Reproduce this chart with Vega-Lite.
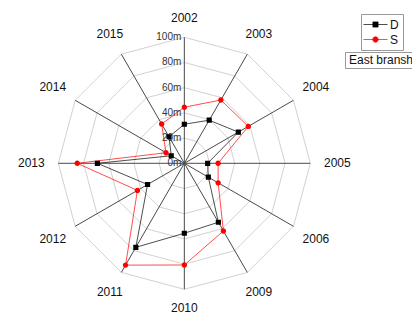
{
  "$schema": "https://vega.github.io/schema/vega-lite/v6.json",
  "width": 412,
  "height": 313,
  "autosize": "none",
  "padding": 0,
  "background": "white",
  "config": {"view": {"stroke": null}, "font": "Liberation Sans"},
  "datasets": {
    "axes": [
      {"year": "2002", "idx": 0, "levels": [20, 40, 60, 80, 100]},
      {"year": "2003", "idx": 1, "levels": [20, 40, 60, 80, 100]},
      {"year": "2004", "idx": 2, "levels": [20, 40, 60, 80, 100]},
      {"year": "2005", "idx": 3, "levels": [20, 40, 60, 80, 100]},
      {"year": "2006", "idx": 4, "levels": [20, 40, 60, 80, 100]},
      {"year": "2009", "idx": 5, "levels": [20, 40, 60, 80, 100]},
      {"year": "2010", "idx": 6, "levels": [20, 40, 60, 80, 100]},
      {"year": "2011", "idx": 7, "levels": [20, 40, 60, 80, 100]},
      {"year": "2012", "idx": 8, "levels": [20, 40, 60, 80, 100]},
      {"year": "2013", "idx": 9, "levels": [20, 40, 60, 80, 100]},
      {"year": "2014", "idx": 10, "levels": [20, 40, 60, 80, 100]},
      {"year": "2015", "idx": 11, "levels": [20, 40, 60, 80, 100]}
    ],
    "ticks": [
      {"label": "0m", "v": 0},
      {"label": "20m", "v": 20},
      {"label": "40m", "v": 40},
      {"label": "60m", "v": 60},
      {"label": "80m", "v": 80},
      {"label": "100m", "v": 100}
    ],
    "main": [
      {"year": "2002", "idx": 0, "series": "D", "value": 31, "branch": "East bransh"},
      {"year": "2003", "idx": 1, "series": "D", "value": 39.5, "branch": "East bransh"},
      {"year": "2004", "idx": 2, "series": "D", "value": 49.5, "branch": "East bransh"},
      {"year": "2005", "idx": 3, "series": "D", "value": 18.5, "branch": "East bransh"},
      {"year": "2006", "idx": 4, "series": "D", "value": 22, "branch": "East bransh"},
      {"year": "2009", "idx": 5, "series": "D", "value": 54, "branch": "East bransh"},
      {"year": "2010", "idx": 6, "series": "D", "value": 55.5, "branch": "East bransh"},
      {"year": "2011", "idx": 7, "series": "D", "value": 77, "branch": "East bransh"},
      {"year": "2012", "idx": 8, "series": "D", "value": 33.7, "branch": "East bransh"},
      {"year": "2013", "idx": 9, "series": "D", "value": 69, "branch": "East bransh"},
      {"year": "2014", "idx": 10, "series": "D", "value": 12, "branch": "East bransh"},
      {"year": "2015", "idx": 11, "series": "D", "value": 24.3, "branch": "East bransh"},
      {"year": "2002", "idx": 0, "series": "S", "value": 44.5, "branch": "East bransh"},
      {"year": "2003", "idx": 1, "series": "S", "value": 58, "branch": "East bransh"},
      {"year": "2004", "idx": 2, "series": "S", "value": 58.6, "branch": "East bransh"},
      {"year": "2005", "idx": 3, "series": "S", "value": 26.8, "branch": "East bransh"},
      {"year": "2006", "idx": 4, "series": "S", "value": 31, "branch": "East bransh"},
      {"year": "2009", "idx": 5, "series": "S", "value": 62, "branch": "East bransh"},
      {"year": "2010", "idx": 6, "series": "S", "value": 80.7, "branch": "East bransh"},
      {"year": "2011", "idx": 7, "series": "S", "value": 93.3, "branch": "East bransh"},
      {"year": "2012", "idx": 8, "series": "S", "value": 43, "branch": "East bransh"},
      {"year": "2013", "idx": 9, "series": "S", "value": 85, "branch": "East bransh"},
      {"year": "2014", "idx": 10, "series": "S", "value": 16.8, "branch": "East bransh"},
      {"year": "2015", "idx": 11, "series": "S", "value": 36, "branch": "East bransh"}
    ]
  },
  "layer": [
    {
      "data": {"name": "axes"},
      "transform": [
        {"flatten": ["levels"], "as": ["level"]},
        {"calculate": "datum.idx*PI/6", "as": "t"},
        {"calculate": "datum.level*sin(datum.t)", "as": "x"},
        {"calculate": "datum.level*cos(datum.t)", "as": "y"}
      ],
      "mark": {"type": "line", "interpolate": "linear-closed", "color": "#d2d2d2", "strokeWidth": 1},
      "encoding": {
        "x": {"field": "x", "type": "quantitative", "axis": null, "scale": {"domain": [-146.3, 180.7], "nice": false, "zero": false}},
        "y": {"field": "y", "type": "quantitative", "axis": null, "scale": {"domain": [-118.8, 129.6], "nice": false, "zero": false}},
        "detail": {"field": "level", "type": "nominal"},
        "order": {"field": "idx", "type": "quantitative"}
      }
    },
    {
      "data": {"name": "axes"},
      "transform": [
        {"calculate": "datum.idx*PI/6", "as": "t"},
        {"calculate": "0", "as": "z"},
        {"calculate": "100*sin(datum.t)", "as": "sx"},
        {"calculate": "100*cos(datum.t)", "as": "sy"}
      ],
      "mark": {"type": "rule", "color": "#4a4a4a", "strokeWidth": 1},
      "encoding": {
        "x": {"field": "z", "type": "quantitative"},
        "y": {"field": "z", "type": "quantitative"},
        "x2": {"field": "sx"},
        "y2": {"field": "sy"}
      }
    },
    {
      "data": {"name": "ticks"},
      "transform": [{"calculate": "0", "as": "z"}],
      "mark": {"type": "text", "align": "right", "baseline": "middle", "dx": -3, "fontSize": 10, "color": "#333333"},
      "encoding": {
        "x": {"field": "z", "type": "quantitative"},
        "y": {"field": "v", "type": "quantitative"},
        "text": {"field": "label"}
      }
    },
    {
      "data": {"name": "main"},
      "transform": [
        {"calculate": "datum.idx*PI/6", "as": "t"},
        {"calculate": "datum.value*sin(datum.t)", "as": "x"},
        {"calculate": "datum.value*cos(datum.t)", "as": "y"}
      ],
      "mark": {"type": "line", "interpolate": "linear-closed", "strokeWidth": 0.7},
      "encoding": {
        "x": {"field": "x", "type": "quantitative"},
        "y": {"field": "y", "type": "quantitative"},
        "color": {
          "field": "series", "type": "nominal",
          "scale": {"domain": ["D", "S"], "range": ["#000000", "#ff0000"]},
          "legend": {
            "orient": "none", "legendX": 361, "legendY": 14, "title": null,
            "padding": 4, "strokeColor": "#999999", "labelFontSize": 12,
            "labelFont": "Liberation Sans", "labelColor": "#111111",
            "symbolSize": 144, "symbolOffset": 4, "labelOffset": 8, "rowPadding": 2, "symbolStrokeWidth": 0.7
          }
        },
        "order": {"field": "idx", "type": "quantitative"},
        "opacity": {
          "field": "branch", "type": "nominal",
          "scale": {"domain": ["East bransh"], "range": [1, 1]},
          "legend": {
            "orient": "none", "legendX": 345, "legendY": 52, "title": null,
            "padding": 2, "strokeColor": "#999999", "labelFontSize": 12,
            "labelFont": "Liberation Sans", "labelColor": "#111111",
            "symbolSize": 0, "symbolOpacity": 0, "labelOffset": -10, "symbolStrokeWidth": 0
          }
        }
      }
    },
    {
      "data": {"name": "main"},
      "transform": [
        {"calculate": "datum.idx*PI/6", "as": "t"},
        {"calculate": "datum.value*sin(datum.t)", "as": "x"},
        {"calculate": "datum.value*cos(datum.t)", "as": "y"}
      ],
      "mark": {"type": "point", "filled": true, "size": 144, "opacity": 1},
      "encoding": {
        "x": {"field": "x", "type": "quantitative"},
        "y": {"field": "y", "type": "quantitative"},
        "color": {
          "field": "series", "type": "nominal",
          "legend": {
            "orient": "none", "legendX": 361, "legendY": 14, "title": null,
            "padding": 4, "strokeColor": "#999999", "labelFontSize": 12,
            "labelFont": "Liberation Sans", "labelColor": "#111111",
            "symbolSize": 144, "symbolOffset": 4, "labelOffset": 8, "rowPadding": 2, "symbolStrokeWidth": 0.7
          }
        },
        "shape": {
          "field": "series", "type": "nominal",
          "scale": {"domain": ["D", "S"], "range": ["M-2,0H2M-0.43,-0.43H0.43V0.43H-0.43Z", "M-2,0H2M0.45,0A0.45,0.45,0,1,1,-0.45,0A0.45,0.45,0,1,1,0.45,0"]},
          "legend": {
            "orient": "none", "legendX": 361, "legendY": 14, "title": null,
            "padding": 4, "strokeColor": "#999999", "labelFontSize": 12,
            "labelFont": "Liberation Sans", "labelColor": "#111111",
            "symbolSize": 144, "symbolOffset": 4, "labelOffset": 8, "rowPadding": 2, "symbolStrokeWidth": 0.7
          }
        }
      }
    },
    {
      "data": {"name": "axes"},
      "transform": [
        {"calculate": "datum.idx*PI/6", "as": "t"},
        {"calculate": "(145+8*abs(sin(datum.t)))/1.26", "as": "lr"},
        {"calculate": "datum.lr*sin(datum.t)", "as": "lx"},
        {"calculate": "datum.lr*cos(datum.t)", "as": "ly"}
      ],
      "mark": {"type": "text", "align": "center", "baseline": "middle", "fontSize": 12, "color": "#111111"},
      "encoding": {
        "x": {"field": "lx", "type": "quantitative"},
        "y": {"field": "ly", "type": "quantitative"},
        "text": {"field": "year"}
      }
    }
  ]
}
